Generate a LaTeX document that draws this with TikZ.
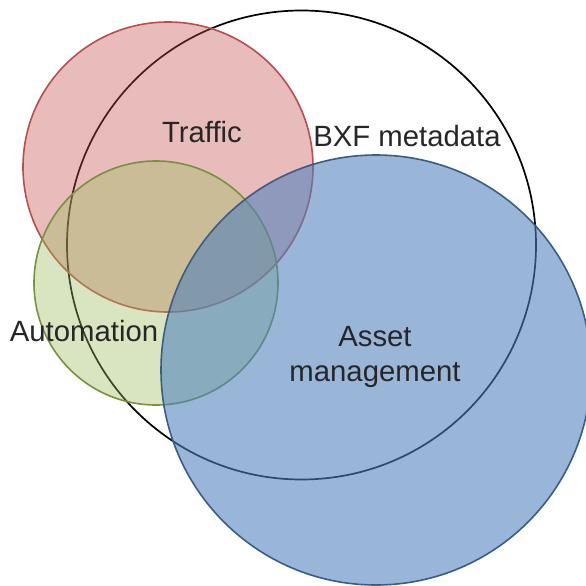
\documentclass[tikz,border=0pt]{standalone}
\usepackage{fontspec}
\setmainfont{Liberation Sans}
\definecolor{trafficfill}{HTML}{C0504D}
\definecolor{trafficline}{HTML}{B94E4B}
\definecolor{autofill}{HTML}{9BBB59}
\definecolor{autoline}{HTML}{76923C}
\definecolor{assetfill}{HTML}{4F81BD}
\definecolor{assetline}{HTML}{385D8A}
\begin{document}
\begin{tikzpicture}[x=1pt,y=-1pt,
  set/.style={circle,inner sep=0pt,line width=1.6pt},
  label/.style={font=\fontsize{29.3}{35}\selectfont,text=black!85,inner sep=0pt}]
\useasboundingbox (0,0) rectangle (586,586);
\clip (0,0) rectangle (586,586);
% outline-only metadata set, drawn first so the tinted sets lie over it
\node[set,draw=black,line width=1.7pt,minimum size=469pt] (bxf) at (301.5,245) {};
\node[set,draw=trafficline,fill=trafficfill,fill opacity=.38,minimum size=290pt] (traffic) at (168,167) {};
\node[set,draw=autoline,fill=autofill,fill opacity=.38,minimum size=244pt] (auto) at (156,283) {};
\node[set,draw=assetline,fill=assetfill,fill opacity=.58,minimum size=430pt] (asset) at (376,370) {};
% set names
\node[label,anchor=base] (ltraffic) at (202,142) {Traffic};
\node[label,anchor=base] (lbxf) at (407,146) {BXF metadata};
\node[label,anchor=base] (lauto) at (84,341) {Automation};
\node[label,anchor=base] (lasset1) at (375,346) {Asset};
\node[label,anchor=base] (lasset2) at (375,381) {management};
\end{tikzpicture}
\end{document}
